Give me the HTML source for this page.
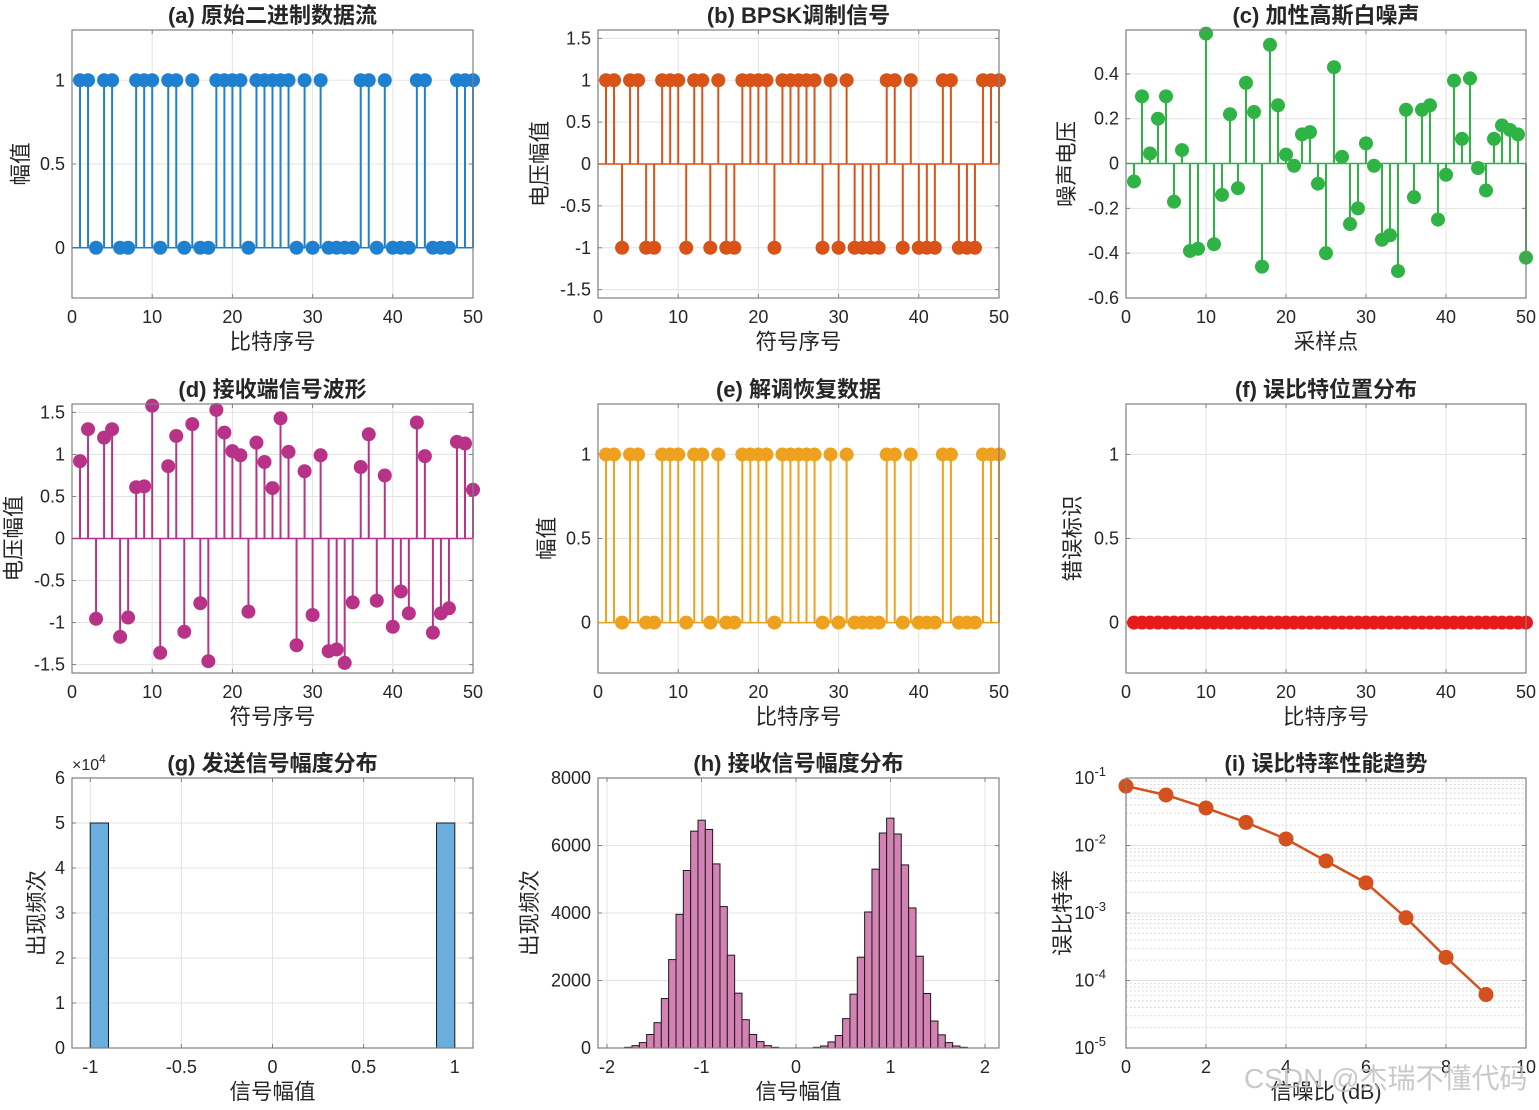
<!DOCTYPE html>
<html><head><meta charset="utf-8"><style>
html,body{margin:0;padding:0;background:#fff;}
svg text{font-family:"Liberation Sans","Noto Sans CJK SC",sans-serif;fill:#262626;}
</style></head><body>
<svg id="fig" width="1539" height="1105" viewBox="0 0 1539 1105" xmlns="http://www.w3.org/2000/svg"></svg>
<script>
const bits=[1,1,0,1,1,0,0,1,1,1,0,1,1,0,1,0,0,1,1,1,1,0,1,1,1,1,1,0,1,0,1,0,0,0,0,1,1,0,1,0,0,0,1,1,0,0,0,1,1,1];
const noise=[-0.08,0.30,0.045,0.20,0.30,-0.17,0.06,-0.39,-0.38,0.58,-0.36,-0.14,0.22,-0.11,0.36,0.23,-0.46,0.53,0.26,0.04,-0.01,0.13,0.14,-0.09,-0.40,0.43,0.03,-0.27,-0.20,0.09,-0.01,-0.34,-0.32,-0.48,0.24,-0.15,0.24,0.26,-0.25,-0.05,0.37,0.11,0.38,-0.02,-0.12,0.11,0.17,0.15,0.13,-0.42];
const txValues=[-1,1];
const txCounts=[50000,50000];
const rxLeftStart=-1.813;
const rxRightStart=0.183;
const rxBinWidth=0.0776;
const rxLeftCounts=[20,70,160,400,750,1465,2620,3960,5260,6425,6750,6475,5455,4190,2750,1625,840,400,190,70,20];
const rxRightCounts=[20,60,180,370,870,1595,2690,4030,5300,6370,6810,6340,5425,4150,2720,1615,800,390,160,60,20];
const snrDb=[0,1,2,3,4,5,6,7,8,9];
const berValues=[0.076,0.056,0.036,0.022,0.0125,0.0059,0.0028,0.00085,0.00022,0.000062];

const NS="http://www.w3.org/2000/svg";
const svg=document.getElementById('fig');
function el(tag,attrs,parent){const e=document.createElementNS(NS,tag);for(const k in attrs)e.setAttribute(k,attrs[k]);(parent||svg).appendChild(e);return e;}
function fmt(v){let s=(Math.round(v*1000)/1000).toString();return s;}
function axes(o){
  const g=el('g',{});
  
  
  const sx=v=>o.x0+(v-o.xmin)/(o.xmax-o.xmin)*(o.x1-o.x0);
  const sy=o.ylog?(v=>o.y1-(Math.log10(v)-o.ymin)/(o.ymax-o.ymin)*(o.y1-o.y0)):(v=>o.y1-(v-o.ymin)/(o.ymax-o.ymin)*(o.y1-o.y0));
  el('rect',{x:o.x0,y:o.y0,width:o.x1-o.x0,height:o.y1-o.y0,fill:'#fff'},g);
  if(o.ylog){
    for(let d=o.ymin;d<o.ymax;d++){for(let m=2;m<10;m++){const y=sy(m*Math.pow(10,d));el('line',{x1:o.x0,x2:o.x1,y1:y,y2:y,stroke:'#d0d0d0','stroke-dasharray':'1.5,2.5','stroke-width':1},g);}}
  }
  o.xticks.forEach(t=>{const x=sx(t);el('line',{x1:x,x2:x,y1:o.y0,y2:o.y1,stroke:'#e3e3e3'},g);
    const tx=el('text',{x:x,y:o.y1+25,'font-size':18,'text-anchor':'middle'},g);tx.textContent=fmt(t);
    
    el('line',{x1:x,x2:x,y1:o.y1,y2:o.y1-4,stroke:'#808080'},g);el('line',{x1:x,x2:x,y1:o.y0,y2:o.y0+4,stroke:'#808080'},g);});
  o.yticks.forEach(t=>{const y=o.ylog?sy(Math.pow(10,t)):sy(t);el('line',{x1:o.x0,x2:o.x1,y1:y,y2:y,stroke:'#e3e3e3'},g);
    el('line',{x1:o.x0,x2:o.x0+4,y1:y,y2:y,stroke:'#808080'},g);el('line',{x1:o.x1,x2:o.x1-4,y1:y,y2:y,stroke:'#808080'},g);
    const tx=el('text',{x:o.x0-7,y:y+6,'font-size':18,'text-anchor':'end'},g);
    
    if(o.ylog){tx.textContent='10';const sp=el('tspan',{dy:-8,'font-size':13},tx);sp.textContent=String(t);tx.setAttribute('x',o.x0-20);}
    else tx.textContent=o.yfmt?o.yfmt(t):fmt(t);});
  const t=el('text',{x:(o.x0+o.x1)/2,y:o.y0-7,'font-size':22,'font-weight':'bold','text-anchor':'middle'},g);t.textContent=o.title;
  
  const xl=el('text',{x:(o.x0+o.x1)/2,y:o.y1+51,'font-size':21.5,'text-anchor':'middle'},g);xl.textContent=o.xlabel;
  
  const yl=el('text',{x:0,y:0,'font-size':21.5,'text-anchor':'middle',transform:`translate(${o.ylx},${(o.y0+o.y1)/2}) rotate(-90)`},g);yl.textContent=o.ylabel;
  
  const plot=el('g',{},g);
  el('rect',{x:o.x0,y:o.y0,width:o.x1-o.x0,height:o.y1-o.y0,fill:'none',stroke:'#808080','stroke-width':1.2},g);
  return {sx,sy,plot,g};
}
function stem(ax,vals,color,base){
  const y0=ax.sy(0);
  const bl=el('line',{x1:ax.sx(0),x2:ax.sx(50),y1:y0,y2:y0,stroke:color,'stroke-width':1.5},ax.plot);
  
  vals.forEach((v,i)=>{const x=ax.sx(i+1),y=ax.sy(v);
    const l=el('line',{x1:x,x2:x,y1:y0,y2:y,stroke:color,'stroke-width':2},ax.plot);
    
    const c=el('circle',{cx:x,cy:y,r:7,fill:color},ax.plot);
    });
}
const C=[[72,473],[598,999],[1126,1526]],R=[[30,298],[404,673],[778,1048]];
const X50=[0,10,20,30,40,50];
let a=axes({name:'panel-a',x0:C[0][0],x1:C[0][1],y0:R[0][0],y1:R[0][1],xmin:0,xmax:50,ymin:-0.3,ymax:1.3,xticks:X50,yticks:[0,0.5,1],title:'(a) 原始二进制数据流',xlabel:'比特序号',ylabel:'幅值',ylx:28});
stem(a,bits,'#1f80cf');
const sym=bits.map(b=>2*b-1);
let b=axes({name:'panel-b',x0:C[1][0],x1:C[1][1],y0:R[0][0],y1:R[0][1],xmin:0,xmax:50,ymin:-1.6,ymax:1.6,xticks:X50,yticks:[-1.5,-1,-0.5,0,0.5,1,1.5],title:'(b) BPSK调制信号',xlabel:'符号序号',ylabel:'电压幅值',ylx:547});
stem(b,sym,'#d95319');
let c=axes({name:'panel-c',x0:C[2][0],x1:C[2][1],y0:R[0][0],y1:R[0][1],xmin:0,xmax:50,ymin:-0.6,ymax:0.596,xticks:X50,yticks:[-0.6,-0.4,-0.2,0,0.2,0.4],title:'(c) 加性高斯白噪声',xlabel:'采样点',ylabel:'噪声电压',ylx:1074});
stem(c,noise,'#2fb344');
const rx=sym.map((s,i)=>s+noise[i]);
let d=axes({name:'panel-d',x0:C[0][0],x1:C[0][1],y0:R[1][0],y1:R[1][1],xmin:0,xmax:50,ymin:-1.6,ymax:1.6,xticks:X50,yticks:[-1.5,-1,-0.5,0,0.5,1,1.5],title:'(d) 接收端信号波形',xlabel:'符号序号',ylabel:'电压幅值',ylx:21});
stem(d,rx,'#b83288');
const demod=rx.map(v=>v>0?1:0);
let e=axes({name:'panel-e',x0:C[1][0],x1:C[1][1],y0:R[1][0],y1:R[1][1],xmin:0,xmax:50,ymin:-0.3,ymax:1.3,xticks:X50,yticks:[0,0.5,1],title:'(e) 解调恢复数据',xlabel:'比特序号',ylabel:'幅值',ylx:554});
stem(e,demod,'#eda11f');
const errs=demod.map((v,i)=>v!==bits[i]?1:0);
let f=axes({name:'panel-f',x0:C[2][0],x1:C[2][1],y0:R[1][0],y1:R[1][1],xmin:0,xmax:50,ymin:-0.3,ymax:1.3,xticks:X50,yticks:[0,0.5,1],title:'(f) 误比特位置分布',xlabel:'比特序号',ylabel:'错误标识',ylx:1080});
stem(f,errs,'#e81a1c');
let g=axes({name:'panel-g',x0:C[0][0],x1:C[0][1],y0:R[2][0],y1:R[2][1],xmin:-1.1,xmax:1.1,ymin:0,ymax:6,xticks:[-1,-0.5,0,0.5,1],yticks:[0,1,2,3,4,5,6],title:'(g) 发送信号幅度分布',xlabel:'信号幅值',ylabel:'出现频次',ylx:44});
txValues.forEach((v,i)=>{const l=v<0?v:v-0.1;const x=g.sx(l),w=g.sx(l+0.1)-x,y=g.sy(txCounts[i]/1e4);
  const r=el('rect',{x:x,y:y,width:w,height:g.sy(0)-y,fill:'#6aaee0',stroke:'#1a1a1a','stroke-width':1},g.plot);
  });
const ex=el('text',{x:72,y:770,'font-size':16});ex.textContent='×10';const exs=el('tspan',{dy:-7,'font-size':12},ex);exs.textContent='4';

let h=axes({name:'panel-h',x0:C[1][0],x1:C[1][1],y0:R[2][0],y1:R[2][1],xmin:-2.095,xmax:2.148,ymin:0,ymax:8000,xticks:[-2,-1,0,1,2],yticks:[0,2000,4000,6000,8000],title:'(h) 接收信号幅度分布',xlabel:'信号幅值',ylabel:'出现频次',ylx:537});
[[rxLeftStart,rxLeftCounts],[rxRightStart,rxRightCounts]].forEach(([st,cs])=>cs.forEach((cnt,i)=>{const l=st+i*rxBinWidth;const x=h.sx(l),w=h.sx(l+rxBinWidth)-x,y=h.sy(cnt);
  const r=el('rect',{x:x,y:y,width:w,height:h.sy(0)-y,fill:'#d482b4',stroke:'#1a1a1a','stroke-width':1},h.plot);
  }));
let k=axes({name:'panel-i',x0:C[2][0],x1:C[2][1],y0:R[2][0],y1:R[2][1],xmin:0,xmax:10,ymin:-5,ymax:-1,ylog:true,xticks:[0,2,4,6,8,10],yticks:[-5,-4,-3,-2,-1],title:'(i) 误比特率性能趋势',xlabel:'信噪比 (dB)',ylabel:'误比特率',ylx:1070});
const pl=el('polyline',{points:snrDb.map((s,i)=>k.sx(s)+','+k.sy(berValues[i])).join(' '),fill:'none',stroke:'#d4501c','stroke-width':2.5},k.plot);

snrDb.forEach((s,i)=>{const cc=el('circle',{cx:k.sx(s),cy:k.sy(berValues[i]),r:7.5,fill:'#d4501c'},k.plot);
  });
const wm=el('text',{x:1244,y:1088,'font-size':28,fill:'#bbbbbb',style:'fill:#c0c0c0;opacity:0.85'});wm.textContent='CSDN @杰瑞不懂代码';

</script>
</body></html>
